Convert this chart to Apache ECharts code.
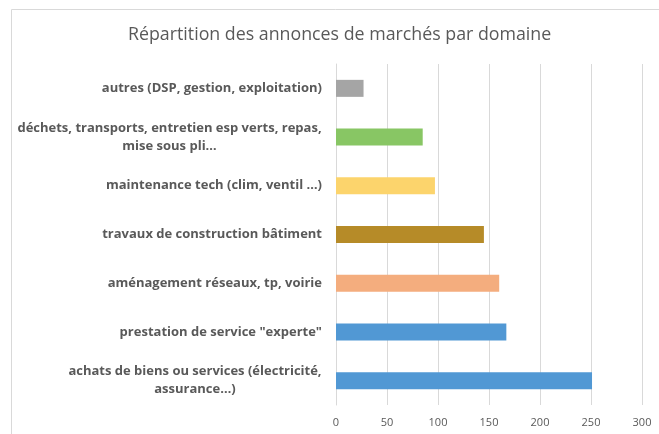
<!DOCTYPE html>
<html>
<head>
<meta charset="utf-8">
<script src="https://cdn.jsdelivr.net/npm/echarts@6/dist/echarts.min.js"></script>
<style>
html, body { margin: 0; padding: 0; background: #fff; }
#bar { width: 659px; height: 434px; }
</style>
</head>
<body>
<div id="bar"></div>
<script>
// categories from bottom to top
var categories = [
	'achats de biens ou services (électricité,\nassurance…)',
	'prestation de service "experte"',
	'aménagement réseaux, tp, voirie',
	'travaux de construction bâtiment',
	'maintenance tech (clim, ventil …)',
	'déchets, transports, entretien esp verts, repas,\nmise sous pli…',
	'autres (DSP, gestion, exploitation)'
];
var values = [251, 167, 160, 145, 97, 85, 27];
var barColors = ['#5198d4', '#5198d4', '#f4ad7e', '#b68b28', '#fcd46c', '#88c664', '#a5a5a5'];
var xTicks = [0, 50, 100, 150, 200, 250, 300];

var labelFont = 'bold 13px "Open Sans"';
var ctx = document.createElement('canvas').getContext('2d');
ctx.font = labelFont;

// multi-line labels: lines centred on each other, block right aligned
var rich = {};
var labelMap = {};
categories.forEach(function (c, i) {
	if (c.indexOf('\n') < 0) return;
	var lines = c.split('\n');
	var w = 0;
	lines.forEach(function (l) { w = Math.max(w, Math.ceil(ctx.measureText(l).width)); });
	var key = 'm' + i;
	rich[key] = {
		width: w,
		align: 'center',
		color: '#595959',
		fontFamily: 'Open Sans',
		fontWeight: 'bold',
		fontSize: 13,
		lineHeight: 18
	};
	labelMap[c] = lines.map(function (l) { return '{' + key + '|' + l + '}'; }).join('\n');
});

var myChart = echarts.init(document.getElementById('bar'));

var option = {
	animation: false,
	title: {
		text: 'Répartition des annonces de marchés par domaine',
		left: 123,
		top: 21,
		textStyle: {
			fontFamily: 'Open Sans',
			fontWeight: 'normal',
			fontSize: 17.8,
			color: '#595959'
		}
	},
	graphic: [{
		type: 'rect',
		shape: { x: 11.5, y: 9.5, width: 700, height: 500 },
		style: { fill: 'none', stroke: '#d9d9d9', lineWidth: 1 },
		silent: true
	}],
	grid: {
		left: 336,
		right: 17,
		top: 64,
		bottom: 29,
		containLabel: false
	},
	xAxis: {
		type: 'value',
		min: xTicks[0],
		max: xTicks[xTicks.length - 1],
		interval: 50,
		axisLine: { show: false },
		axisTick: { show: false },
		splitLine: { lineStyle: { color: '#d9d9d9' } },
		axisLabel: {
			color: '#595959',
			fontFamily: 'Open Sans',
			fontSize: 11,
			margin: 12
		}
	},
	yAxis: {
		type: 'category',
		data: categories,
		axisLine: { lineStyle: { color: '#d9d9d9' } },
		axisTick: { show: false },
		axisLabel: {
			color: '#595959',
			fontFamily: 'Open Sans',
			fontWeight: 'bold',
			fontSize: 13,
			lineHeight: 18,
			margin: 14,
			align: 'right',
			rich: rich,
			formatter: function (v) {
				return labelMap[v] || v;
			}
		}
	},
	series: [{
		type: 'bar',
		barWidth: 17,
		data: values.map(function (v, i) {
			return { value: v, itemStyle: { color: barColors[i] } };
		})
	}]
};
myChart.setOption(option);
</script>
</body>
</html>
